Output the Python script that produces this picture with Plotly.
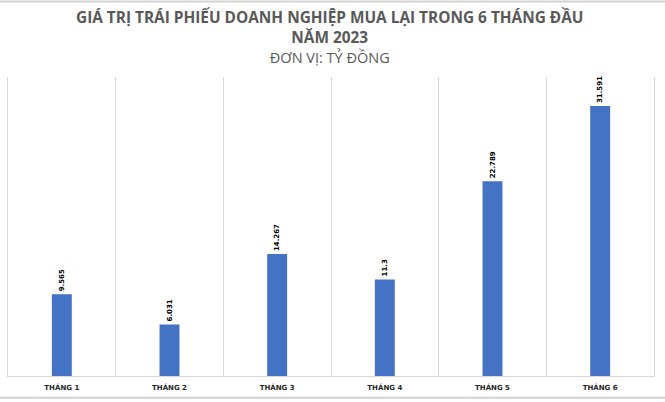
import plotly.graph_objects as go

categories = ["THÁNG 1", "THÁNG 2", "THÁNG 3", "THÁNG 4", "THÁNG 5", "THÁNG 6"]
values = [9.565, 6.031, 14.267, 11.3, 22.789, 31.591]
value_labels = ["9.565", "6.031", "14.267", "11.3", "22.789", "31.591"]

title_line1 = "GIÁ TRỊ TRÁI PHIẾU DOANH NGHIỆP MUA LẠI TRONG 6 THÁNG ĐẦU"
title_line2 = "NĂM 2023"
subtitle = "ĐƠN VỊ: TỶ ĐỒNG"

fig = go.Figure()
fig.add_trace(go.Bar(
    x=categories,
    y=values,
    text=value_labels,
    textposition="outside",
    textangle=-90,
    textfont=dict(family="DejaVu Sans", size=7, color="#000000", weight="bold"),
    marker=dict(color="#4472C4", line=dict(width=0)),
    width=0.185,
    cliponaxis=False,
    constraintext="none",
    hoverinfo="x+y",
))

title_text = (f"<b>{title_line1}</b><br><b>{title_line2}</b><br>"
              f"<span style='font-size:14.5px'>{subtitle}</span>")

fig.update_layout(
    width=665,
    height=402,
    paper_bgcolor="white",
    plot_bgcolor="white",
    margin=dict(l=7.5, r=11, t=77, b=26),
    showlegend=False,
    annotations=[
        dict(text=title_text, xref="paper", yref="paper", x=0.4985, y=1.1338,
             xanchor="center", yanchor="middle", showarrow=False, align="center",
             font=dict(family="Open Sans", size=15.4, color="#595959")),
    ],
    xaxis=dict(
        type="category",
        tickson="boundaries",
        showgrid=True,
        gridcolor="#D9D9D9",
        gridwidth=1,
        showline=True,
        linecolor="#D9D9D9",
        linewidth=1,
        ticks="",
        ticklabelstandoff=5,
        tickfont=dict(family="DejaVu Sans", size=7, color="#262626", weight="bold"),
        fixedrange=True,
    ),
    yaxis=dict(
        range=[0, 35],
        showgrid=False,
        zeroline=False,
        showticklabels=False,
        showline=True,
        mirror=True,
        linecolor="#D9D9D9",
        linewidth=1,
        ticks="",
        fixedrange=True,
    ),
    shapes=[
        dict(type="line", xref="paper", yref="paper", x0=-0.05, x1=1.05,
             y0=1.2525, y1=1.2525, line=dict(color="#D4D4D4", width=2)),
        dict(type="line", xref="paper", yref="paper", x0=-0.05, x1=1.05,
             y0=-0.0725, y1=-0.0725, line=dict(color="#D9D9D9", width=2.5)),
    ],
)

fig.write_html("out.html", config={"displayModeBar": False},
               post_script="document.body.style.margin='0px';")
